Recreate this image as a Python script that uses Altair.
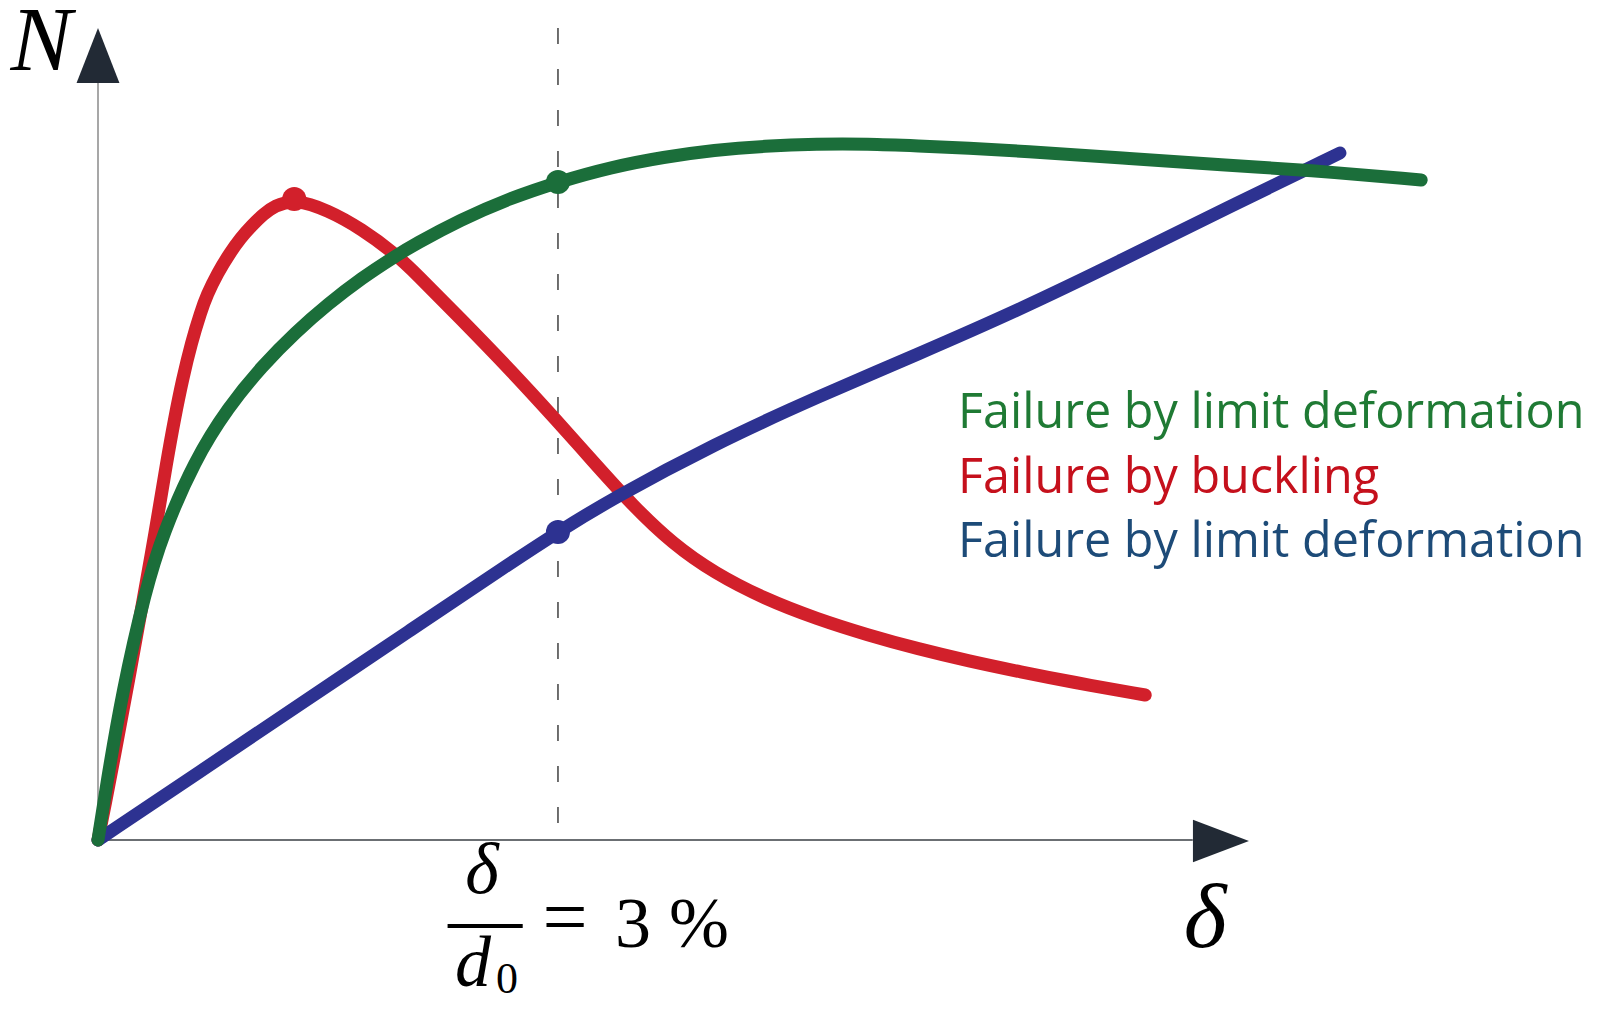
import altair as alt
import pandas as pd

# ---- data (x: relative deformation delta/d0 in %, y: axial force N, arbitrary units)
green_x = [0, 0.05, 0.16, 0.31, 0.42, 0.63, 0.85, 1.07, 1.29, 1.50, 1.72, 1.94, 2.07, 2.36, 2.69,
           3.00, 3.35, 3.69, 4.02, 4.35, 4.69, 5.02, 5.35, 5.68, 6.02, 6.68, 7.35, 7.88, 8.63]
green_y = [0, 0.50, 1.50, 2.50, 3.05, 3.80, 4.33, 4.74, 5.08, 5.36, 5.62, 5.84, 5.96, 6.20, 6.42,
           6.58, 6.73, 6.83, 6.90, 6.94, 6.96, 6.96, 6.94, 6.92, 6.89, 6.82, 6.75, 6.70, 6.60]

red_x = [0, 0.05, 0.10, 0.20, 0.30, 0.37, 0.45, 0.50, 0.55, 0.61, 0.67, 0.71, 0.78, 0.86, 0.93,
         1.00, 1.08, 1.15, 1.28, 1.50, 1.72, 1.94, 2.07, 2.36, 2.69, 3.00, 3.22, 3.49, 3.75, 4.02,
         4.35, 4.69, 5.02, 5.35, 5.68, 6.02, 6.35, 6.83]
red_y = [0, 0.38, 0.78, 1.60, 2.45, 3.05, 3.80, 4.22, 4.60, 4.98, 5.28, 5.45, 5.67, 5.87, 6.02,
         6.14, 6.26, 6.34, 6.41, 6.30, 6.11, 5.86, 5.67, 5.22, 4.70, 4.18, 3.80, 3.34, 2.96, 2.67,
         2.41, 2.21, 2.05, 1.91, 1.79, 1.68, 1.58, 1.45]

blue_x = [0, 0.69, 1.36, 2.02, 2.69, 3.00, 3.35, 4.02, 4.69, 5.35, 6.02, 6.68, 7.35, 8.10]
blue_y = [0, 0.71, 1.40, 2.08, 2.77, 3.08, 3.41, 3.96, 4.43, 4.86, 5.31, 5.80, 6.31, 6.87]

marker_series = ["red", "green", "blue"]
marker_x = [1.28, 3.00, 3.00]
marker_y = [6.41, 6.58, 3.08]

legend_labels = ["Failure by limit deformation", "Failure by buckling", "Failure by limit deformation"]
legend_y = [4.12, 3.47, 2.83]
legend_x = 5.609

limit_x = 3.0          # delta/d0 = 3 %
x_axis_end = 7.14
y_axis_end = 7.57
dash_top = 8.12

CURVE = {"green": "#1b6e3a", "red": "#d2202b", "blue": "#2d3291"}
TEXTC = ["#1f7a34", "#c5101c", "#1d4b78"]
AXIS_DARK = "#222a35"

XMIN, XMAX = -0.587, 9.744
YMIN, YMAX = -1.62, 8.32

xs = alt.Scale(domain=[XMIN, XMAX], nice=False, zero=False)
ys = alt.Scale(domain=[YMIN, YMAX], nice=False, zero=False)
X = lambda f="x": alt.X(f"{f}:Q", scale=xs, axis=None)
Y = lambda f="y": alt.Y(f"{f}:Q", scale=ys, axis=None)

layers = []

# axes lines
axes_df = pd.DataFrame({
    "x": [0, 0], "x2": [x_axis_end, 0], "y": [0, 0], "y2": [0, y_axis_end],
    "c": ["#3a3f45", "#8a8a8a"],
})
layers.append(alt.Chart(axes_df).mark_rule(strokeWidth=1.5).encode(
    x=X(), x2="x2:Q", y=Y(), y2="y2:Q", color=alt.Color("c:N", scale=None)))

# dashed limit line (dash pattern starts at the top)
dash_df = pd.DataFrame({"x": [limit_x], "y": [dash_top], "y2": [0]})
layers.append(alt.Chart(dash_df).mark_rule(strokeWidth=1.4, color="#333333", strokeDash=[16, 25]).encode(
    x=X(), y=Y(), y2="y2:Q"))

# arrow heads
arrow_up = pd.DataFrame({"x": [0.0], "y": [7.845]})
layers.append(alt.Chart(arrow_up).mark_point(
    shape="M0,-1 L0.78,1 L-0.78,1 Z", size=3025, filled=True, opacity=1, color=AXIS_DARK, strokeWidth=0
).encode(x=X(), y=Y()))
arrow_right = pd.DataFrame({"x": [7.324], "y": [-0.01]})
layers.append(alt.Chart(arrow_right).mark_point(
    shape="M-1,-0.76 L1,0 L-1,0.76 Z", size=3136, filled=True, opacity=1, color=AXIS_DARK, strokeWidth=0
).encode(x=X(), y=Y()))

# curves (red, blue, green drawing order)
def curve(xv, yv, col):
    df = pd.DataFrame({"x": xv, "y": yv, "i": range(len(xv))})
    return alt.Chart(df).mark_line(interpolate="basis", strokeWidth=13, strokeCap="round",
                                   strokeJoin="round", color=col).encode(x=X(), y=Y(), order="i:Q")

layers.append(curve(red_x, red_y, CURVE["red"]))
layers.append(curve(blue_x, blue_y, CURVE["blue"]))
layers.append(curve(green_x, green_y, CURVE["green"]))

# markers
mk = pd.DataFrame({"x": marker_x, "y": marker_y, "s": marker_series,
                   "c": [CURVE[s] for s in marker_series]})
layers.append(alt.Chart(mk).mark_circle(size=580, opacity=1).encode(
    x=X(), y=Y(), color=alt.Color("c:N", scale=None)))

# legend text
lg = pd.DataFrame({"t": legend_labels, "x": [legend_x] * 3, "y": legend_y, "c": TEXTC})
layers.append(alt.Chart(lg).mark_text(align="left", baseline="alphabetic", font="Open Sans",
                                      fontSize=48.5).encode(
    x=X(), y=Y(), text="t:N", color=alt.Color("c:N", scale=None)))

# axis labels
serif = "Liberation Serif"
def txt(t, x, y, size, style="italic", align="center"):
    df = pd.DataFrame({"t": [t], "x": [x], "y": [y]})
    return alt.Chart(df).mark_text(align=align, baseline="alphabetic", font=serif, fontSize=size,
                                   fontStyle=style, color="#000000").encode(x=X(), y=Y(), text="t:N")

layers.append(txt("N", -0.37, 7.70, 92))
layers.append(txt("δ", 7.22, -1.07, 92))
layers.append(txt("δ", 2.504, -0.53, 72))
layers.append(txt("d", 2.446, -1.46, 72))
layers.append(txt("0", 2.667, -1.53, 44, style="normal"))
layers.append(txt("=", 3.046, -1.04, 80, style="normal"))
layers.append(txt("3 %", 3.372, -1.07, 72, style="normal", align="left"))

frac = pd.DataFrame({"x": [2.28], "x2": [2.77], "y": [-0.86]})
layers.append(alt.Chart(frac).mark_rule(strokeWidth=4, color="#000000").encode(
    x=X(), x2="x2:Q", y=Y()))

chart = alt.layer(*layers).properties(
    width=1584, height=994, padding=0, autosize="none"
).configure_view(stroke=None)

chart.save("out.html", embed_options={"renderer": "svg", "actions": False})
